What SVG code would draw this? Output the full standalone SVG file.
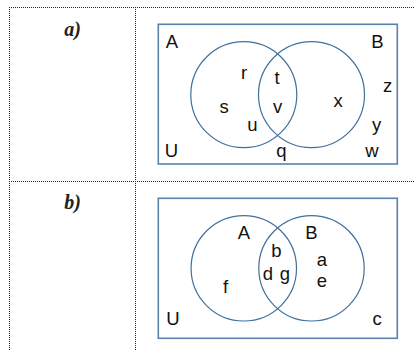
<svg xmlns="http://www.w3.org/2000/svg" width="415" height="351" viewBox="0 0 415 351">
<style>
.grid{stroke:#222;stroke-width:1;stroke-dasharray:1,1;fill:none}
.box{fill:none;stroke:#5b82aa;stroke-width:1.6}
.set{fill:none;stroke:#41709c;stroke-width:1.2}
.t{font-family:"Liberation Sans","DejaVu Sans",sans-serif;font-size:18.5px;fill:#111;text-anchor:middle}
.lab{font-family:"Liberation Serif","Times New Roman",serif;font-size:20px;font-weight:bold;font-style:italic;fill:#222;text-anchor:middle}
</style>
<rect width="415" height="351" fill="#fff"/>
<g id="table">
<line class="grid" x1="9" y1="7.5" x2="415" y2="7.5"/>
<line class="grid" x1="9" y1="181.5" x2="415" y2="181.5"/>
<line class="grid" x1="9.5" y1="7" x2="9.5" y2="351"/>
<line class="grid" x1="135.5" y1="7" x2="135.5" y2="351"/>
</g>
<g id="label-a"><text class="lab" x="72.5" y="36">a)</text></g>
<g id="label-b"><text class="lab" x="72.5" y="209">b)</text></g>
<g id="venn-a">
<rect class="box" x="158.3" y="24.3" width="239" height="139.7"/>
<circle class="set" cx="243.8" cy="94.7" r="53"/>
<circle class="set" cx="311.5" cy="94.7" r="53"/>
<text class="t" x="172" y="48">A</text>
<text class="t" x="377.5" y="48">B</text>
<text class="t" x="244" y="79">r</text>
<text class="t" x="277" y="84">t</text>
<text class="t" x="387.5" y="92">z</text>
<text class="t" x="224" y="113">s</text>
<text class="t" x="277.5" y="113">v</text>
<text class="t" x="338" y="107">x</text>
<text class="t" x="252.5" y="131">u</text>
<text class="t" x="376.5" y="131">y</text>
<text class="t" x="171.5" y="157">U</text>
<text class="t" x="281.5" y="157">q</text>
<text class="t" x="372" y="157">w</text>
</g>
<g id="venn-b">
<rect class="box" x="158.3" y="198.3" width="239" height="140"/>
<circle class="set" cx="243.8" cy="268.3" r="52.7"/>
<circle class="set" cx="311.5" cy="268.3" r="52.7"/>
<text class="t" x="244" y="238.5">A</text>
<text class="t" x="311.5" y="238.5">B</text>
<text class="t" x="276.5" y="257">b</text>
<text class="t" x="322" y="266">a</text>
<text class="t" x="268" y="279.5">d</text>
<text class="t" x="285" y="279.5">g</text>
<text class="t" x="322" y="287">e</text>
<text class="t" x="225.5" y="292.5">f</text>
<text class="t" x="173" y="325">U</text>
<text class="t" x="377" y="325">c</text>
</g>
</svg>
